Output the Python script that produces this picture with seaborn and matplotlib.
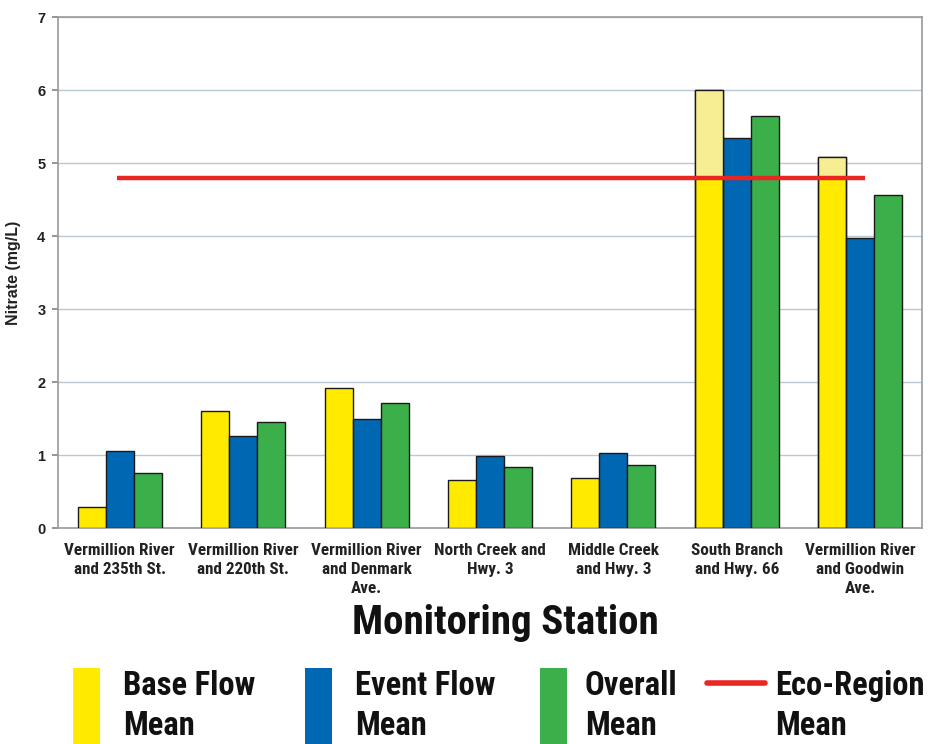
import numpy as np
import pandas as pd
import matplotlib
matplotlib.use("Agg")
import matplotlib.pyplot as plt
from matplotlib.patches import Rectangle
from matplotlib.lines import Line2D
import seaborn as sns

stations = [
    "Vermillion River\nand 235th St.",
    "Vermillion River\nand 220th St.",
    "Vermillion River\nand Denmark\nAve.",
    "North Creek and\nHwy. 3",
    "Middle Creek\nand Hwy. 3",
    "South Branch\nand Hwy. 66",
    "Vermillion River\nand Goodwin\nAve.",
]
base_flow = [0.29, 1.60, 1.92, 0.66, 0.68, 6.00, 5.08]
event_flow = [1.05, 1.26, 1.49, 0.99, 1.03, 5.34, 3.97]
overall = [0.75, 1.45, 1.71, 0.84, 0.86, 5.64, 4.56]
eco_region_mean = 4.8
series_names = ["Base Flow Mean", "Event Flow Mean", "Overall Mean"]
legend_labels = ["Base Flow\nMean", "Event Flow\nMean", "Overall\nMean", "Eco-Region\nMean"]
yticks = [0, 1, 2, 3, 4, 5, 6, 7]

YELLOW = "#FFEA00"
PALE_YELLOW = "#F7EE94"
BLUE = "#0068B3"
GREEN = "#3BB04A"
RED = "#EA2622"

df = pd.DataFrame({
    "station": stations * 3,
    "nitrate": base_flow + event_flow + overall,
    "series": [series_names[0]] * 7 + [series_names[1]] * 7 + [series_names[2]] * 7,
})

sns.set_theme(style="white")
narrow = ["Roboto Condensed", "DejaVu Sans"]
plt.rcParams["font.family"] = ["Liberation Sans", "DejaVu Sans"]

fig = plt.figure(figsize=(9.29, 7.44), dpi=100)
ax = fig.add_axes([58 / 929, 1 - 528 / 744, (922 - 58) / 929, (528 - 17) / 744])

sns.barplot(data=df, x="station", y="nitrate", hue="series",
            palette=[YELLOW, BLUE, GREEN], saturation=1, width=0.68,
            edgecolor="#1a1a1a", linewidth=1.0, ax=ax, legend=False, zorder=3)

# pale part of base-flow bars above the eco-region mean
n = len(stations)
bars = [p for p in ax.patches if isinstance(p, Rectangle)]
for p in bars[:n]:
    h = p.get_height()
    if h > eco_region_mean:
        ax.add_patch(Rectangle((p.get_x(), eco_region_mean), p.get_width(),
                               h - eco_region_mean, facecolor=PALE_YELLOW,
                               edgecolor="none", zorder=3.5))
        ax.add_patch(Rectangle((p.get_x(), 0), p.get_width(), h,
                               facecolor="none", edgecolor="#1a1a1a",
                               linewidth=1.0, zorder=3.6))

ax.hlines(eco_region_mean, -0.02, n - 1 + 0.04, color=RED, linewidth=3.2, zorder=5)

ax.set_xlim(-0.5, n - 0.5)
ax.set_ylim(0, 7)
ax.set_yticks(yticks)
ax.set_yticklabels([str(t) for t in yticks], fontsize=10.5, fontweight="bold", color="#222")
ax.yaxis.grid(True, color="#B9C9D3", linewidth=1.0, zorder=0)
ax.set_axisbelow(True)

ax.set_xticks(range(n))
ax.set_xticklabels(stations, fontsize=12.3, fontweight="bold", family=narrow,
                   color="#222", linespacing=1.32, va="top")
ax.set_xticks(np.arange(-0.5, n, 1.0), minor=True)
ax.tick_params(axis="x", which="major", length=0, pad=11)
ax.tick_params(axis="x", which="minor", length=5, color="#888", direction="out")
ax.tick_params(axis="y", length=4, color="#888", left=True, pad=5)

for s in ax.spines.values():
    s.set_color("#9a9a9a")
    s.set_linewidth(1.2)

ax.set_xlabel("")
ax.set_ylabel("Nitrate (mg/L)", fontsize=11.5, fontweight="bold", color="#222", labelpad=12)

fig.text(505 / 929, 1 - 623 / 744, "Monitoring Station", ha="center", va="center",
         fontsize=29.5, fontweight="bold", family=narrow, color="#111")

# legend
patch_x = [73, 305, 540]
text_x = [123, 355, 585, 775]
colors = [YELLOW, BLUE, GREEN]
for px, c in zip(patch_x, colors):
    fig.add_artist(Rectangle((px / 929, 0), 27 / 929, (744 - 668) / 744,
                             transform=fig.transFigure, facecolor=c, edgecolor="none"))
fig.add_artist(Line2D([707 / 929, 765 / 929], [1 - 683 / 744, 1 - 683 / 744],
                      transform=fig.transFigure, color=RED, linewidth=4))
for tx, lab in zip(text_x, legend_labels):
    fig.text(tx / 929, 1 - 706 / 744, lab, ha="left", va="center", fontsize=23.5,
             fontweight="bold", family=narrow, color="#111", linespacing=1.35)

fig.savefig("out.png", dpi=100, facecolor="white")
